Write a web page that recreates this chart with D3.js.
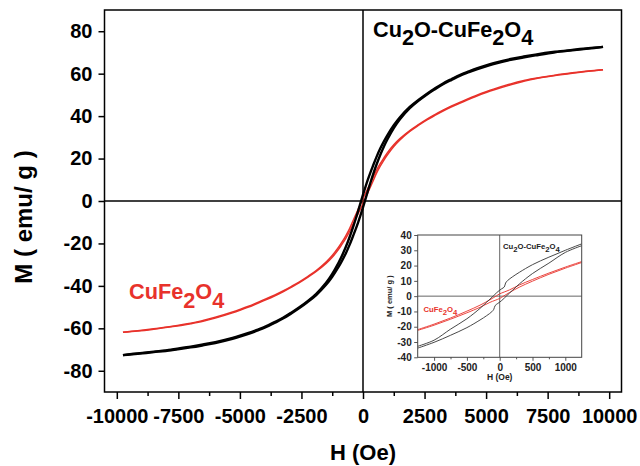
<!DOCTYPE html>
<html><head><meta charset="utf-8">
<script src="https://cdn.jsdelivr.net/npm/d3@7"></script>
<style>html,body{margin:0;padding:0;background:#fff;} svg{display:block;font-family:"Liberation Sans",Arial,sans-serif;font-weight:bold;}</style>
</head><body><svg id="c" width="640" height="466"></svg>
<script>
// ---------- data ----------
const mainXTicks = [-10000,-7500,-5000,-2500,0,2500,5000,7500,10000];
const mainXMinor = [-8750,-6250,-3750,-1250,1250,3750,6250,8750];
const mainYTicks = [-80,-60,-40,-20,0,20,40,60,80];
const insetXTicks = [-1000,-500,0,500,1000];
const insetXMinor = [-750,-250,250,750];
const insetYTicks = [-40,-30,-20,-10,0,10,20,30,40];

// Cu2O-CuFe2O4, descending field branch
const blackDesc = [[9750,72.6],[9150,72.0],[8500,71.2],[7800,70.3],[7000,69.0],[6500,68.0],[6000,66.9],[5300,64.9],[5000,63.9],[4650,62.6],[4300,61.1],[3950,59.5],[3600,57.5],[3250,55.4],[2900,52.9],[2600,50.6],[2250,47.6],[1900,44.3],[1500,39.5],[1250,35.7],[1000,31.2],[850,28.1],[700,24.7],[550,20.8],[400,16.4],[300,13.4],[200,10.2],[100,6.7],[0,3.0],[-100,-0.9],[-200,-4.8],[-300,-8.6],[-400,-12.2],[-550,-17.2],[-700,-21.7],[-850,-25.7],[-1000,-29.2],[-1250,-34.3],[-1500,-38.5],[-1900,-43.7],[-2250,-47.2],[-2600,-50.2],[-2900,-52.5],[-3250,-55.0],[-3600,-57.1],[-3950,-59.1],[-4300,-60.7],[-4650,-62.2],[-5000,-63.5],[-5300,-64.5],[-6000,-66.5],[-6500,-67.6],[-7000,-68.6],[-7800,-70.1],[-8500,-71.0],[-9150,-71.8],[-9750,-72.6]];
// Cu2O-CuFe2O4, ascending field branch
const blackAsc = [[-9750,-72.6],[-9150,-72.0],[-8500,-71.2],[-7800,-70.3],[-7000,-69.0],[-6500,-68.0],[-6000,-66.9],[-5300,-64.9],[-5000,-63.9],[-4650,-62.6],[-4300,-61.1],[-3950,-59.5],[-3600,-57.5],[-3250,-55.4],[-2900,-52.9],[-2600,-50.6],[-2250,-47.6],[-1900,-44.3],[-1500,-39.5],[-1250,-35.7],[-1000,-31.2],[-850,-28.1],[-700,-24.7],[-550,-20.8],[-400,-16.4],[-300,-13.4],[-200,-10.2],[-100,-6.7],[0,-3.0],[100,0.9],[200,4.8],[300,8.6],[400,12.2],[550,17.2],[700,21.7],[850,25.7],[1000,29.2],[1250,34.3],[1500,38.5],[1900,43.7],[2250,47.2],[2600,50.2],[2900,52.5],[3250,55.0],[3600,57.1],[3950,59.1],[4300,60.7],[4650,62.2],[5000,63.5],[5300,64.5],[6000,66.5],[6500,67.6],[7000,68.6],[7800,70.1],[8500,71.0],[9150,71.8],[9750,72.6]];
// CuFe2O4, descending field branch
const redDesc = [[9750,61.9],[9150,61.3],[8500,60.4],[7800,59.3],[7000,57.8],[6500,56.7],[6000,55.2],[5300,52.7],[5000,51.5],[4650,50.0],[4300,48.3],[3950,46.6],[3600,44.8],[3250,42.8],[2900,40.6],[2600,38.6],[2250,36.0],[1900,33.2],[1500,29.4],[1250,26.5],[1000,22.9],[850,20.3],[700,17.6],[550,14.5],[400,10.8],[300,8.4],[200,6.0],[100,3.6],[0,1.2],[-100,-1.4],[-200,-4.0],[-300,-6.6],[-400,-9.2],[-550,-13.1],[-700,-16.4],[-850,-19.3],[-1000,-21.9],[-1250,-25.7],[-1500,-28.8],[-1900,-32.8],[-2250,-35.6],[-2600,-38.2],[-2900,-40.2],[-3250,-42.4],[-3600,-44.4],[-3950,-46.2],[-4300,-47.9],[-4650,-49.6],[-5000,-51.1],[-5300,-52.3],[-6000,-54.8],[-6500,-56.3],[-7000,-57.6],[-7800,-59.1],[-8500,-60.2],[-9150,-61.1],[-9750,-61.9]];
// CuFe2O4, ascending field branch
const redAsc = [[-9750,-61.9],[-9150,-61.3],[-8500,-60.4],[-7800,-59.3],[-7000,-57.8],[-6500,-56.7],[-6000,-55.2],[-5300,-52.7],[-5000,-51.5],[-4650,-50.0],[-4300,-48.3],[-3950,-46.6],[-3600,-44.8],[-3250,-42.8],[-2900,-40.6],[-2600,-38.6],[-2250,-36.0],[-1900,-33.2],[-1500,-29.4],[-1250,-26.5],[-1000,-22.9],[-850,-20.3],[-700,-17.6],[-550,-14.5],[-400,-10.8],[-300,-8.4],[-200,-6.0],[-100,-3.6],[0,-1.2],[100,1.4],[200,4.0],[300,6.6],[400,9.2],[550,13.1],[700,16.4],[850,19.3],[1000,21.9],[1250,25.7],[1500,28.8],[1900,32.8],[2250,35.6],[2600,38.2],[2900,40.2],[3250,42.4],[3600,44.4],[3950,46.2],[4300,47.9],[4650,49.6],[5000,51.1],[5300,52.3],[6000,54.8],[6500,56.3],[7000,57.6],[7800,59.1],[8500,60.2],[9150,61.1],[9750,61.9]];

const insetBlackDesc = [[1250,34.2],[1000,30.0],[750,25.5],[500,20.6],[300,15.6],[200,12.8],[120,10.2],[90,8.6],[70,6.0],[30,4.8],[0,3.9],[-50,2.1],[-100,0],[-200,-4.0],[-300,-8.0],[-500,-14.8],[-750,-21.6],[-1000,-28.8],[-1250,-32.8]];
const insetBlackAsc = [[-1250,-34.0],[-1000,-30.2],[-750,-25.6],[-500,-20.6],[-300,-15.6],[-200,-12.8],[-120,-10.2],[-90,-8.6],[-70,-6.2],[-30,-4.8],[0,-3.9],[50,-2.1],[100,0],[200,4.0],[300,8.0],[500,14.8],[750,21.6],[1000,28.6],[1250,33.0]];
const insetRedDesc = [[1250,22.6],[1000,19.0],[750,15.1],[500,10.9],[300,7.3],[150,4.1],[0,1.5],[-50,0.2],[-150,-2.4],[-300,-5.9],[-500,-9.8],[-750,-14.3],[-1000,-18.3],[-1250,-21.9]];
const insetRedAsc = [[-1250,-22.4],[-1000,-19.0],[-750,-15.1],[-500,-10.9],[-300,-7.3],[-150,-4.1],[0,-1.5],[50,-0.2],[150,2.4],[300,5.9],[500,9.8],[750,14.3],[1000,18.3],[1250,22.0]];

const RED = "#e8322b";
const FONT = "'Liberation Sans',Arial,sans-serif";
const fmt = d => String(d);

// ---------- main plot ----------
const svg = d3.select("#c");
const M = {l:104.5, r:621.5, t:10, b:392};
const x = d3.scaleLinear().domain([-10500,10500]).range([M.l, M.r]);
const y = d3.scaleLinear().domain([-90,90]).range([M.b, M.t]);

svg.append("clipPath").attr("id","clipMain").append("rect")
  .attr("x",M.l).attr("y",M.t).attr("width",M.r-M.l).attr("height",M.b-M.t);

svg.append("line").attr("x1",M.l).attr("x2",M.r).attr("y1",y(0)).attr("y2",y(0)).attr("stroke","#000").attr("stroke-width",1.5);
svg.append("line").attr("x1",x(0)).attr("x2",x(0)).attr("y1",M.t).attr("y2",M.b).attr("stroke","#000").attr("stroke-width",1.5);

const line = d3.line().x(d=>x(d[0])).y(d=>y(d[1])).curve(d3.curveCatmullRom.alpha(0.5));
const gMain = svg.append("g").attr("clip-path","url(#clipMain)");
[redDesc, redAsc].forEach(s => gMain.append("path").attr("d", line(s)).attr("fill","none").attr("stroke",RED).attr("stroke-width",1.5));
[blackDesc, blackAsc].forEach(s => gMain.append("path").attr("d", line(s)).attr("fill","none").attr("stroke","#000").attr("stroke-width",2.4));

svg.append("rect").attr("x",M.l).attr("y",M.t).attr("width",M.r-M.l).attr("height",M.b-M.t)
  .attr("fill","none").attr("stroke","#000").attr("stroke-width",1.5);

const xAx = svg.append("g").attr("transform",`translate(0,${M.b})`)
  .call(d3.axisBottom(x).tickValues(mainXTicks).tickFormat(fmt).tickSize(7).tickPadding(10));
svg.append("g").attr("transform",`translate(0,${M.b})`)
  .call(d3.axisBottom(x).tickValues(mainXMinor).tickFormat("").tickSize(4));
const yAx = svg.append("g").attr("transform",`translate(${M.l},0)`)
  .call(d3.axisLeft(y).tickValues(mainYTicks).tickFormat(fmt).tickSize(6).tickPadding(6));
svg.selectAll(".domain").remove();
svg.selectAll(".tick line").attr("stroke","#000").attr("stroke-width",1.5);
[xAx,yAx].forEach(g => g.selectAll("text").attr("font-size",20).attr("font-weight","bold").attr("font-family",FONT).attr("fill","#000"));

svg.append("text").attr("x",(M.l+M.r)/2).attr("y",460).attr("text-anchor","middle")
  .attr("font-size",22).text("H (Oe)");
svg.append("text").attr("transform",`translate(32,217) rotate(-90)`).attr("text-anchor","middle")
  .attr("font-size",24).text("M ( emu/ g )");

function formula(g, parts, xPos, yPos, size, color, shift){
  const t = g.append("text").attr("x",xPos).attr("y",yPos).attr("font-size",size).attr("fill",color);
  let cur = 0;
  parts.forEach(p => {
    const target = p.sub ? shift : 0;
    t.append("tspan").attr("dy", target - cur).text(p.t);
    cur = target;
  });
}
const cuCuFe = [{t:"Cu"},{t:"2",sub:true},{t:"O-CuFe"},{t:"2",sub:true},{t:"O"},{t:"4",sub:true}];
const cuFe = [{t:"CuFe"},{t:"2",sub:true},{t:"O"},{t:"4",sub:true}];
formula(svg, cuCuFe, 373, 37, 21.7, "#000", 8);
formula(svg, cuFe, 129, 299, 21.7, RED, 8.5);

// ---------- inset ----------
const I = {l:417.7, r:581.7, t:235, b:357.3};
const xi = d3.scaleLinear().domain([-1250,1250]).range([I.l, I.r]);
const yi = d3.scaleLinear().domain([-40,40]).range([I.b, I.t]);
const gi = svg.append("g");
gi.append("rect").attr("x",I.l).attr("y",I.t).attr("width",I.r-I.l).attr("height",I.b-I.t).attr("fill","#fff");
gi.append("clipPath").attr("id","clipIn").append("rect")
  .attr("x",I.l).attr("y",I.t).attr("width",I.r-I.l).attr("height",I.b-I.t);
gi.append("line").attr("x1",I.l).attr("x2",I.r).attr("y1",yi(0)).attr("y2",yi(0)).attr("stroke","#555").attr("stroke-width",0.9);
gi.append("line").attr("x1",xi(0)).attr("x2",xi(0)).attr("y1",I.t).attr("y2",I.b).attr("stroke","#555").attr("stroke-width",0.9);
const lineI = d3.line().x(d=>xi(d[0])).y(d=>yi(d[1])).curve(d3.curveCatmullRom.alpha(0.5));
const gic = gi.append("g").attr("clip-path","url(#clipIn)");
[insetRedDesc, insetRedAsc].forEach(s => gic.append("path").attr("d", lineI(s)).attr("fill","none").attr("stroke",RED).attr("stroke-width",0.9));
[insetBlackDesc, insetBlackAsc].forEach(s => gic.append("path").attr("d", lineI(s)).attr("fill","none").attr("stroke","#333").attr("stroke-width",0.9));
gi.append("rect").attr("x",I.l).attr("y",I.t).attr("width",I.r-I.l).attr("height",I.b-I.t)
  .attr("fill","none").attr("stroke","#444").attr("stroke-width",1);
const xiAx = gi.append("g").attr("transform",`translate(0,${I.b})`)
  .call(d3.axisBottom(xi).tickValues(insetXTicks).tickFormat(fmt).tickSize(3.5).tickPadding(3));
gi.append("g").attr("transform",`translate(0,${I.b})`)
  .call(d3.axisBottom(xi).tickValues(insetXMinor).tickFormat("").tickSize(2));
const yiAx = gi.append("g").attr("transform",`translate(${I.l},0)`)
  .call(d3.axisLeft(yi).tickValues(insetYTicks).tickFormat(fmt).tickSize(3.5).tickPadding(2.5));
gi.selectAll(".domain").remove();
gi.selectAll(".tick line").attr("stroke","#444").attr("stroke-width",0.9);
[xiAx,yiAx].forEach(g => g.selectAll("text").attr("font-size",10).attr("font-weight","bold").attr("font-family",FONT).attr("fill","#222"));
gi.append("text").attr("x",(I.l+I.r)/2).attr("y",380).attr("text-anchor","middle").attr("font-size",8.5).attr("fill","#222").text("H (Oe)");
gi.append("text").attr("transform",`translate(392,${(I.t+I.b)/2}) rotate(-90)`).attr("text-anchor","middle").attr("font-size",7.5).attr("fill","#222").text("M ( emu/ g )");
formula(gi, cuCuFe, 503, 248.5, 7.7, "#222", 3);
formula(gi, cuFe, 423.5, 311.5, 7.7, RED, 3);
</script></body></html>
